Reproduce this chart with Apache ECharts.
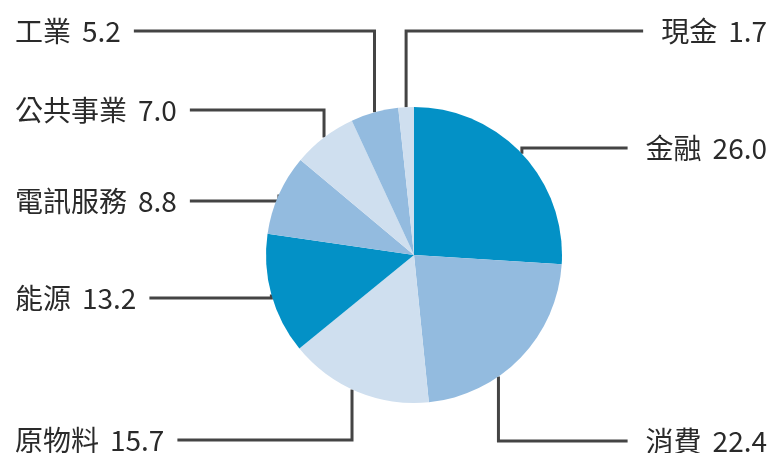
<!DOCTYPE html>
<html>
<head>
    <meta charset="utf-8">
    <script src="https://cdn.jsdelivr.net/npm/echarts@6/dist/echarts.min.js"></script>
    <style>
        body { margin: 0; padding: 0; background: #fff; }
        #chart { width: 770px; height: 453px; }
    </style>
</head>
<body>
    <div id="chart"></div>
    <script>
        // 資產配置 (%)
        var names = ['金融', '消費', '原物料', '能源', '電訊服務', '公共事業', '工業', '現金'];
        var values = [26.0, 22.4, 15.7, 13.2, 8.8, 7.0, 5.2, 1.7];
        var colors = ['#0391c6', '#93bbdf', '#cfdfef', '#0391c6', '#93bbdf', '#cfdfef', '#93bbdf', '#cfdfef'];

        // label placement: side, vertical center, where the leader leaves the slice (0..1 of its arc)
        var labelSide = ['right', 'right', 'left', 'left', 'left', 'left', 'left', 'right'];
        var labelY = [148, 441, 440, 298, 201, 110, 31, 31];
        var labelAnchor = [0.5, 0.64, 0.54, 0.5, 0.5, 0.5, 0.5, 0.5];

        var cx = 414, cy = 255, R = 148;
        var total = values.reduce(function (a, b) { return a + b; }, 0);

        // point on the pie rim inside slice i
        function edgePoint(i) {
            var before = 0;
            for (var k = 0; k < i; k++) before += values[k];
            var frac = (before + values[i] * labelAnchor[i]) / total;
            var ang = frac * Math.PI * 2;
            return [cx + R * Math.sin(ang), cy - R * Math.cos(ang)];
        }

        var chart = echarts.init(document.getElementById('chart'));
        chart.setOption({
            animation: false,
            series: [{
                type: 'pie',
                center: [cx, cy],
                radius: R,
                startAngle: 90,
                clockwise: true,
                avoidLabelOverlap: false,
                itemStyle: { borderWidth: 0 },
                emphasis: { disabled: true },
                label: {
                    show: true,
                    position: 'outside',
                    color: '#2a2a2a',
                    fontSize: 28,
                    fontFamily: 'Noto Sans CJK TC',
                    formatter: function (p) {
                        return '{n|' + p.name + '}{v|' + p.value.toFixed(1) + '}';
                    },
                    rich: {
                        n: { fontSize: 28, color: '#2a2a2a', fontFamily: 'Noto Sans CJK TC' },
                        v: { fontSize: 28, color: '#2a2a2a', fontFamily: 'Noto Sans CJK TC', padding: [0, 0, 0, 11] }
                    }
                },
                labelLine: {
                    show: true,
                    smooth: false,
                    lineStyle: { color: '#444', width: 3 }
                },
                labelLayout: function (p) {
                    var i = p.dataIndex;
                    var side = labelSide[i];
                    var y = labelY[i];
                    var w = p.labelRect.width;
                    var x = side === 'left' ? 15 : 767;
                    var end = side === 'left' ? x + w + 13 : x - w - 18;
                    var p0 = edgePoint(i);
                    return {
                        x: x,
                        y: y,
                        align: side,
                        verticalAlign: 'middle',
                        labelLinePoints: [p0, [p0[0], y], [end, y]]
                    };
                },
                data: names.map(function (n, i) {
                    return { name: n, value: values[i], itemStyle: { color: colors[i] } };
                })
            }]
        });
    </script>
</body>
</html>
